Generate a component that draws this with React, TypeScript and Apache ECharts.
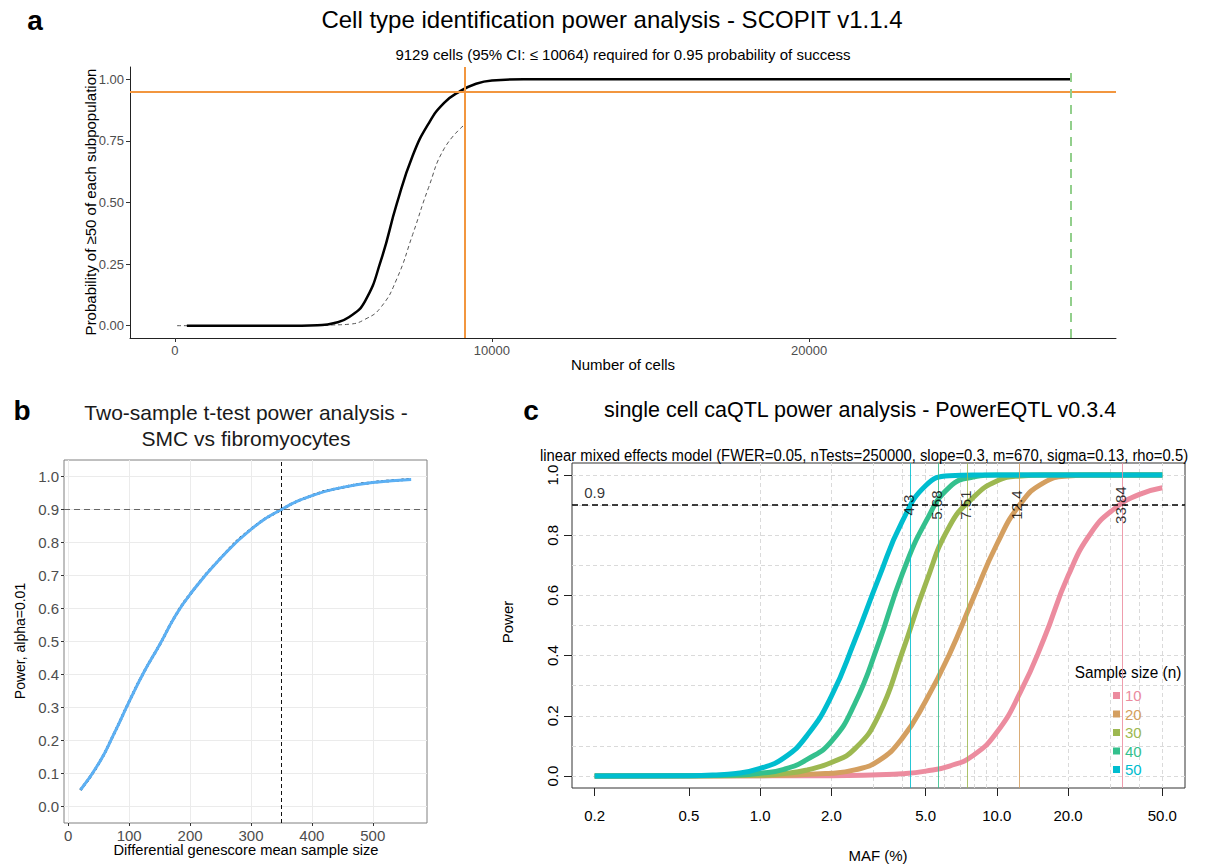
import React, { useEffect, useRef } from "react";
import * as echarts from "echarts";

const FONT = '"Liberation Sans", Arial, Helvetica, sans-serif';

// ---------- Panel a: SCOPIT ----------
const aSolidCells = [380, 2000, 4000, 4500, 5000, 5500, 6000, 6500, 7000, 7500, 8000, 8500, 9000, 9500, 10000, 11000, 14000, 20000, 28265];
const aSolidProb = [0, 0, 0, 0.002, 0.01, 0.035, 0.1, 0.265, 0.495, 0.69, 0.82, 0.905, 0.952, 0.982, 0.995, 1, 1, 1, 1];
const aDashCells = [70, 3000, 4500, 5000, 5500, 6000, 6500, 7000, 7500, 8000, 8500, 9129];
const aDashProb = [0, 0, 0.001, 0.003, 0.006, 0.026, 0.075, 0.19, 0.37, 0.56, 0.72, 0.815];
const aRequiredCells = 9129;
const aTargetProb = 0.95;
const aMaxCells = 28265;
const aXTicks = [0, 10000, 20000];
const aYTicks = [0, 0.25, 0.5, 0.75, 1];

// ---------- Panel b: two-sample t-test ----------
const bSize = [20, 50, 75, 100, 125, 150, 175, 200, 250, 300, 350, 400, 450, 500, 563];
const bPower = [0.05, 0.13, 0.22, 0.318, 0.41, 0.49, 0.575, 0.643, 0.752, 0.84, 0.9, 0.942, 0.967, 0.982, 0.991];
const bTargetPower = 0.9;
const bTargetSize = 350;
const bXTicks = [0, 100, 200, 300, 400, 500];
const bYTicks = [0, 0.1, 0.2, 0.3, 0.4, 0.5, 0.6, 0.7, 0.8, 0.9, 1.0];

// ---------- Panel c: PowerEQTL ----------
const cSampleSizes = ["10", "20", "30", "40", "50"];
const cColors = ["#EC8C9F", "#D49F60", "#9DB851", "#34C08D", "#00BDCF"];
const cMaf10 = [0.2, 2.0, 3.16, 3.98, 5.01, 6.31, 7.94, 10, 12.6, 15.8, 20, 25.1, 31.6, 39.8, 50];
const cPow10 = [0, 0.001, 0.004, 0.007, 0.016, 0.033, 0.068, 0.145, 0.28, 0.455, 0.665, 0.81, 0.89, 0.935, 0.958];
const cMaf20 = [0.2, 1.0, 2.0, 2.51, 3.16, 3.98, 5.01, 6.31, 7.94, 10, 12.6, 15.8, 20, 25.1, 50];
const cPow20 = [0, 0.001, 0.009, 0.02, 0.05, 0.125, 0.25, 0.405, 0.59, 0.77, 0.905, 0.975, 0.997, 1, 1];
const cMaf30 = [0.2, 0.63, 1.0, 1.26, 1.58, 2.0, 2.51, 3.16, 3.98, 5.01, 6.31, 7.94, 10, 12.6, 15.8, 50];
const cPow30 = [0, 0.0005, 0.003, 0.008, 0.02, 0.045, 0.09, 0.2, 0.41, 0.64, 0.83, 0.925, 0.98, 0.997, 1, 1];
const cMaf40 = [0.2, 0.5, 0.79, 1.0, 1.26, 1.58, 2.0, 2.51, 3.16, 3.98, 5.01, 6.31, 7.94, 10, 50];
const cPow40 = [0, 0.0005, 0.003, 0.009, 0.022, 0.055, 0.115, 0.24, 0.44, 0.67, 0.845, 0.96, 0.993, 1, 1];
const cMaf50 = [0.2, 0.5, 0.63, 0.79, 1.0, 1.26, 1.58, 2.0, 2.51, 3.16, 3.98, 5.01, 6.31, 7.94, 50];
const cPow50 = [0, 0.001, 0.003, 0.008, 0.025, 0.06, 0.135, 0.265, 0.45, 0.655, 0.845, 0.965, 0.998, 1, 1];
const cThresholds = [33.84, 12.4, 7.51, 5.68, 4.3];
const cThresholdLabels = ["33.84", "12.4", "7.51", "5.68", "4.3"];
const cPowerLevel = 0.9;
const cXTicks = [0.2, 0.5, 1, 2, 5, 10, 20, 50];
const cXGrid = [1, 2, 3, 4, 5, 6, 7, 8, 9, 10, 20, 30, 40, 50];
const cYTicks = [0, 0.2, 0.4, 0.6, 0.8, 1.0];
const cYGrid = [0, 0.1, 0.2, 0.3, 0.4, 0.5, 0.6, 0.7, 0.8, 0.9, 1.0];

const ORANGE = "#F2963F";
const GREEN = "#92CF8C";
const BLUE = "#5CB0F4";
const SMOOTH = 0.5;

const zip = (xs: number[], ys: number[]) => xs.map((x, i) => [x, ys[i]]);

const markBase = {
  silent: true,
  symbol: ["none", "none"],
  label: { show: false },
  emphasis: { disabled: true },
  animation: false,
};

function txt(text: string, x: number, y: number, o: any = {}) {
  return {
    type: "text",
    x,
    y,
    rotation: o.rotation || 0,
    scaleX: o.scaleX || 1,
    silent: true,
    style: {
      text,
      fill: o.color || "#000",
      font: `${o.weight || "normal"} ${o.size || 14}px ${FONT}`,
      textAlign: o.align || "center",
      textVerticalAlign: "middle",
    },
  };
}

function buildOption() {
  // axis extents (ggplot 5% / base R 4% expansion)
  const aXMin = -1413, aXMax = 29678;
  const span = Math.log10(50 / 0.2) * 0.04;
  const cXMin = 0.2 / Math.pow(10, span);
  const cXMax = 50 * Math.pow(10, span);

  const cMafs = [cMaf10, cMaf20, cMaf30, cMaf40, cMaf50];
  const cPows = [cPow10, cPow20, cPow30, cPow40, cPow50];

  const cCurveSeries = cSampleSizes.map((n, i) => ({
    type: "line",
    name: n,
    xAxisIndex: 2,
    yAxisIndex: 2,
    data: zip(cMafs[i], cPows[i]),
    smooth: SMOOTH,
    symbol: "none",
    lineStyle: { color: cColors[i], width: 5 },
    itemStyle: { color: cColors[i] },
    z: 3,
    markLine: {
      ...markBase,
      z: 5,
      lineStyle: { color: cColors[i], width: 1, type: "solid", opacity: 0.85 },
      data: [{ xAxis: cThresholds[i] }],
    },
  }));

  return {
    animation: false,
    backgroundColor: "#fff",
    textStyle: { fontFamily: FONT },
    grid: [
      { left: 130, top: 67, width: 986, height: 271 },
      { left: 64, top: 460, width: 363, height: 363, show: true, borderColor: "#808080", borderWidth: 1, backgroundColor: "transparent" },
      { left: 572, top: 463, width: 613, height: 325, show: true, borderColor: "#333", borderWidth: 1, backgroundColor: "transparent" },
    ],
    xAxis: [
      {
        gridIndex: 0, type: "value", min: aXMin, max: aXMax,
        axisLine: { show: true, onZero: false, lineStyle: { color: "#222", width: 1 } },
        axisTick: { show: true, customValues: aXTicks, length: 4, lineStyle: { color: "#333" } },
        axisLabel: { customValues: aXTicks, formatter: (v: number) => String(v), color: "#4D4D4D", fontSize: 13, fontFamily: FONT, margin: 6 },
        splitLine: { show: false },
      },
      {
        gridIndex: 1, type: "value", min: -7, max: 589,
        axisLine: { show: false, onZero: false },
        axisTick: { show: true, customValues: bXTicks, length: 3, lineStyle: { color: "#333" } },
        axisLabel: { customValues: bXTicks, formatter: (v: number) => String(v), color: "#4D4D4D", fontSize: 15, fontFamily: FONT, margin: 5 },
        splitLine: { show: false },
      },
      {
        gridIndex: 2, type: "log", logBase: 10, min: cXMin, max: cXMax, position: "top", show: false,
      },
      {
        gridIndex: 2, type: "value", position: "bottom",
        min: Math.log10(cXMin), max: Math.log10(cXMax),
        axisLine: { show: false, onZero: false },
        axisTick: { show: true, customValues: cXTicks.map((v) => Math.log10(v)), length: 8, lineStyle: { color: "#222" } },
        axisLabel: {
          customValues: cXTicks.map((v) => Math.log10(v)),
          formatter: (v: number) => Math.pow(10, v).toFixed(1),
          color: "#000", fontSize: 15, fontFamily: FONT, margin: 20,
        },
        splitLine: { show: false },
      },
    ],
    yAxis: [
      {
        gridIndex: 0, type: "value", min: -0.05, max: 1.05,
        axisLine: { show: true, onZero: false, lineStyle: { color: "#222", width: 1 } },
        axisTick: { show: true, customValues: aYTicks, length: 4, lineStyle: { color: "#333" } },
        axisLabel: { customValues: aYTicks, formatter: (v: number) => v.toFixed(2), color: "#4D4D4D", fontSize: 13, fontFamily: FONT, margin: 6 },
        splitLine: { show: false },
      },
      {
        gridIndex: 1, type: "value", min: -0.05, max: 1.05,
        axisLine: { show: false, onZero: false },
        axisTick: { show: true, customValues: bYTicks, length: 3, lineStyle: { color: "#333" } },
        axisLabel: { customValues: bYTicks, formatter: (v: number) => v.toFixed(1), color: "#4D4D4D", fontSize: 15, fontFamily: FONT, margin: 5 },
        splitLine: { show: false },
      },
      {
        gridIndex: 2, type: "value", min: -0.04, max: 1.04,
        axisLine: { show: false, onZero: false },
        axisTick: { show: true, customValues: cYTicks, length: 8, lineStyle: { color: "#222" } },
        axisLabel: { customValues: cYTicks, formatter: (v: number) => v.toFixed(1), rotate: 90, color: "#000", fontSize: 15, fontFamily: FONT, margin: 12 },
        splitLine: { show: false },
      },
    ],
    legend: {
      data: cSampleSizes.map((n, i) => ({ name: n, icon: "rect", textStyle: { color: cColors[i] } })),
      orient: "vertical",
      left: 1108,
      top: 683,
      itemWidth: 7,
      itemHeight: 7,
      itemGap: 3.5,
      itemTextGap: 11,
      selectedMode: false,
      textStyle: { fontSize: 15, fontFamily: FONT },
    },
    series: [
      // ---- panel a ----
      {
        type: "line", name: "_aDash", xAxisIndex: 0, yAxisIndex: 0,
        data: zip(aDashCells, aDashProb), smooth: SMOOTH, symbol: "none",
        lineStyle: { color: "#555", width: 1, type: [4, 3] }, z: 2,
      },
      {
        type: "line", name: "_aSolid", xAxisIndex: 0, yAxisIndex: 0,
        data: zip(aSolidCells, aSolidProb), smooth: SMOOTH, symbol: "none",
        lineStyle: { color: "#000", width: 2.5 }, z: 3,
        markLine: {
          ...markBase, z: 4,
          data: [
            { xAxis: aRequiredCells, lineStyle: { color: ORANGE, width: 2, type: "solid" } },
            { yAxis: aTargetProb, lineStyle: { color: ORANGE, width: 2, type: "solid" } },
            { xAxis: aMaxCells, lineStyle: { color: GREEN, width: 2, type: [9, 7] } },
          ],
        },
      },
      // ---- panel b ----
      {
        type: "line", name: "_bGrid", xAxisIndex: 1, yAxisIndex: 1,
        data: [[bXTicks[0], bYTicks[0]]], symbol: "none", lineStyle: { width: 0 },
        markLine: {
          ...markBase, z: 1,
          lineStyle: { color: "#EBEBEB", width: 1, type: "solid" },
          data: [...bXTicks.map((v) => ({ xAxis: v })), ...bYTicks.map((v) => ({ yAxis: v }))],
        },
      },
      {
        type: "line", name: "_bDots", xAxisIndex: 1, yAxisIndex: 1,
        data: zip(bSize, bPower), smooth: SMOOTH, symbol: "none",
        lineStyle: { color: "#000", width: 2.5, type: "dotted" }, z: 2,
      },
      {
        type: "line", name: "_bFit", xAxisIndex: 1, yAxisIndex: 1,
        data: zip(bSize, bPower), smooth: SMOOTH, symbol: "none",
        lineStyle: { color: BLUE, width: 3 }, z: 3,
        markLine: {
          ...markBase, z: 4,
          data: [
            { yAxis: bTargetPower, lineStyle: { color: "#666", width: 1.2, type: [6, 4] } },
            { xAxis: bTargetSize, lineStyle: { color: "#111", width: 1, type: [4, 3] } },
          ],
        },
      },
      // ---- panel c ----
      {
        type: "line", name: "_cGrid", xAxisIndex: 2, yAxisIndex: 2,
        data: [[1, 0]], symbol: "none", lineStyle: { width: 0 },
        markLine: {
          ...markBase, z: 1,
          lineStyle: { color: "#DADADA", width: 1, type: [4, 3] },
          data: [...cXGrid.map((v) => ({ xAxis: v })), ...cYGrid.map((v) => ({ yAxis: v }))],
        },
      },
      ...cCurveSeries,
      {
        type: "scatter", name: "_cLabels", xAxisIndex: 2, yAxisIndex: 2,
        symbolSize: 1, itemStyle: { color: "rgba(0,0,0,0)" }, silent: true, z: 6,
        data: cThresholds.map((t) => [t, cPowerLevel]),
        label: {
          show: true, position: "inside", rotate: 90, color: "#000", fontSize: 15, fontFamily: FONT, offset: [0, -2],
          formatter: (p: any) => cThresholdLabels[p.dataIndex],
        },
        markLine: {
          ...markBase, z: 5,
          data: [{ yAxis: cPowerLevel, lineStyle: { color: "#000", width: 1.5, type: [6, 4] } }],
        },
      },
      {
        type: "scatter", name: "_cLevel", xAxisIndex: 2, yAxisIndex: 2,
        symbolSize: 1, itemStyle: { color: "rgba(0,0,0,0)" }, silent: true, z: 6,
        data: [[cXTicks[0], cPowerLevel]],
        label: { show: true, position: "top", distance: 5, color: "#000", fontSize: 15, fontFamily: FONT, formatter: () => cPowerLevel.toFixed(1) },
      },
    ],
    graphic: [
      txt("a", 35, 20, { size: 28, weight: "bold" }),
      txt("Cell type identification power analysis - SCOPIT v1.1.4", 612, 19, { size: 24 }),
      txt("9129 cells (95% CI: \u2264 10064) required for 0.95 probability of success", 623, 54, { size: 15 }),
      txt("Probability of \u226550 of each subpopulation", 90, 202, { size: 15, rotation: Math.PI / 2 }),
      txt("Number of cells", 623, 364, { size: 15 }),

      txt("b", 22, 410, { size: 28, weight: "bold" }),
      txt("Two-sample t-test power analysis -", 246, 412, { size: 21, color: "#1a1a1a" }),
      txt("SMC vs fibromyocytes", 246, 438, { size: 21, color: "#1a1a1a" }),
      txt("Power, alpha=0.01", 20, 641, { size: 14, rotation: Math.PI / 2 }),
      txt("Differential genescore mean sample size", 246, 850, { size: 14.7 }),

      txt("c", 531, 410, { size: 28, weight: "bold" }),
      txt("single cell caQTL power analysis - PowerEQTL v0.3.4", 860, 410, { size: 21.5 }),
      txt("linear mixed effects model (FWER=0.05, nTests=250000, slope=0.3, m=670, sigma=0.13, rho=0.5)", 864, 455, { size: 16.5, scaleX: 0.9 }),
      txt("Power", 507, 622, { size: 15, rotation: Math.PI / 2 }),
      txt("MAF (%)", 878, 855, { size: 15 }),
      txt("Sample size (n)", 1128, 672, { size: 16.5, scaleX: 0.93 }),
    ],
  };
}

export default function App() {
  const ref = useRef<HTMLDivElement>(null);
  useEffect(() => {
    if (!ref.current) return;
    const chart = echarts.init(ref.current, undefined, { renderer: "svg" });
    chart.setOption(buildOption() as any);
    return () => chart.dispose();
  }, []);
  return (
    <div
      ref={ref}
      style={{ position: "absolute", left: 0, top: 0, width: 1224, height: 865, background: "#fff" }}
    />
  );
}
